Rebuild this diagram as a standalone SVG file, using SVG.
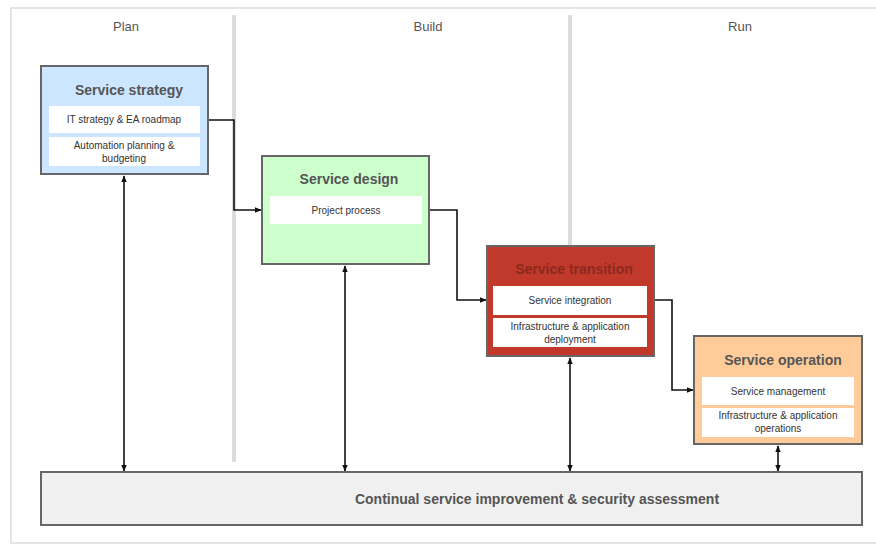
<svg xmlns="http://www.w3.org/2000/svg" width="876" height="546" viewBox="0 0 876 546">
<style>
.lane{font-family:"Liberation Sans",Arial,sans-serif;font-size:13px;fill:#555;text-anchor:middle}
.title{font-family:"Liberation Sans",Arial,sans-serif;font-size:14px;font-weight:bold;fill:#555;text-anchor:middle}
.sub{font-family:"Liberation Sans",Arial,sans-serif;font-size:10px;fill:#333;text-anchor:middle}
.box{stroke:#666;stroke-width:2}
.subbox{fill:#fff;stroke:none}
.conn{fill:none;stroke:#111;stroke-width:1.6}
.div{stroke:#dcdcdc;stroke-width:4}
</style>
<defs>
<marker id="ah" viewBox="0 0 10 10" refX="9" refY="5" markerWidth="7" markerHeight="7" orient="auto-start-reverse" markerUnits="userSpaceOnUse">
<path d="M0,1 L10,5 L0,9 z" fill="#111"/>
</marker>
</defs>
<rect x="0" y="0" width="876" height="546" fill="#fff"/>
<g id="frame">
<rect x="11" y="8" width="880" height="535" fill="none" stroke="#e4e4e4" stroke-width="2"/>
<line class="div" x1="234" y1="15" x2="234" y2="462"/>
<line class="div" x1="570" y1="15" x2="570" y2="246"/>
<text class="lane" x="126" y="31">Plan</text>
<text class="lane" x="428" y="31">Build</text>
<text class="lane" x="740" y="31">Run</text>
</g>
<g id="connectors">
<polyline class="conn" points="200,120 234,120 234,210 261,210" marker-end="url(#ah)"/>
<polyline class="conn" points="422,210 457,210 457,300 486,300" marker-end="url(#ah)"/>
<polyline class="conn" points="647,300 672,300 672,390 693,390" marker-end="url(#ah)"/>
<line class="conn" x1="124" y1="176" x2="124" y2="471" marker-start="url(#ah)" marker-end="url(#ah)"/>
<line class="conn" x1="345" y1="266" x2="345" y2="471" marker-start="url(#ah)" marker-end="url(#ah)"/>
<line class="conn" x1="570" y1="358" x2="570" y2="471" marker-start="url(#ah)" marker-end="url(#ah)"/>
<line class="conn" x1="778" y1="446" x2="778" y2="471" marker-start="url(#ah)" marker-end="url(#ah)"/>
</g>
<g id="service-strategy">
<rect class="box" x="41" y="66" width="167" height="108" fill="#cce6ff"/>
<text class="title" x="129" y="95">Service strategy</text>
<rect class="subbox" x="49" y="106" width="151" height="27"/>
<text class="sub" x="124" y="123">IT strategy &amp; EA roadmap</text>
<rect class="subbox" x="49" y="137" width="151" height="29"/>
<text class="sub" x="124" y="149">Automation planning &amp;</text>
<text class="sub" x="124" y="162">budgeting</text>
</g>
<g id="service-design">
<rect class="box" x="262" y="156" width="167" height="108" fill="#ccffcc"/>
<text class="title" x="349" y="184">Service design</text>
<rect class="subbox" x="270" y="196" width="152" height="28"/>
<text class="sub" x="346" y="214">Project process</text>
</g>
<g id="service-transition">
<rect class="box" x="487" y="246" width="167" height="110" fill="#c0392b"/>
<text class="title" x="574" y="274" style="fill:#8c2a20">Service transition</text>
<rect class="subbox" x="493" y="286" width="154" height="29"/>
<text class="sub" x="570" y="304">Service integration</text>
<rect class="subbox" x="493" y="318" width="154" height="29"/>
<text class="sub" x="570" y="330">Infrastructure &amp; application</text>
<text class="sub" x="570" y="343">deployment</text>
</g>
<g id="service-operation">
<rect class="box" x="694" y="336" width="168" height="108" fill="#ffcc99"/>
<text class="title" x="783" y="365">Service operation</text>
<rect class="subbox" x="702" y="377" width="152" height="28"/>
<text class="sub" x="778" y="395">Service management</text>
<rect class="subbox" x="702" y="408" width="152" height="29"/>
<text class="sub" x="778" y="419">Infrastructure &amp; application</text>
<text class="sub" x="778" y="432">operations</text>
</g>
<g id="continual-improvement">
<rect class="box" x="41" y="472" width="821" height="53" fill="#f0f0f0"/>
<text class="title" x="537" y="504">Continual service improvement &amp; security assessment</text>
</g>
</svg>
